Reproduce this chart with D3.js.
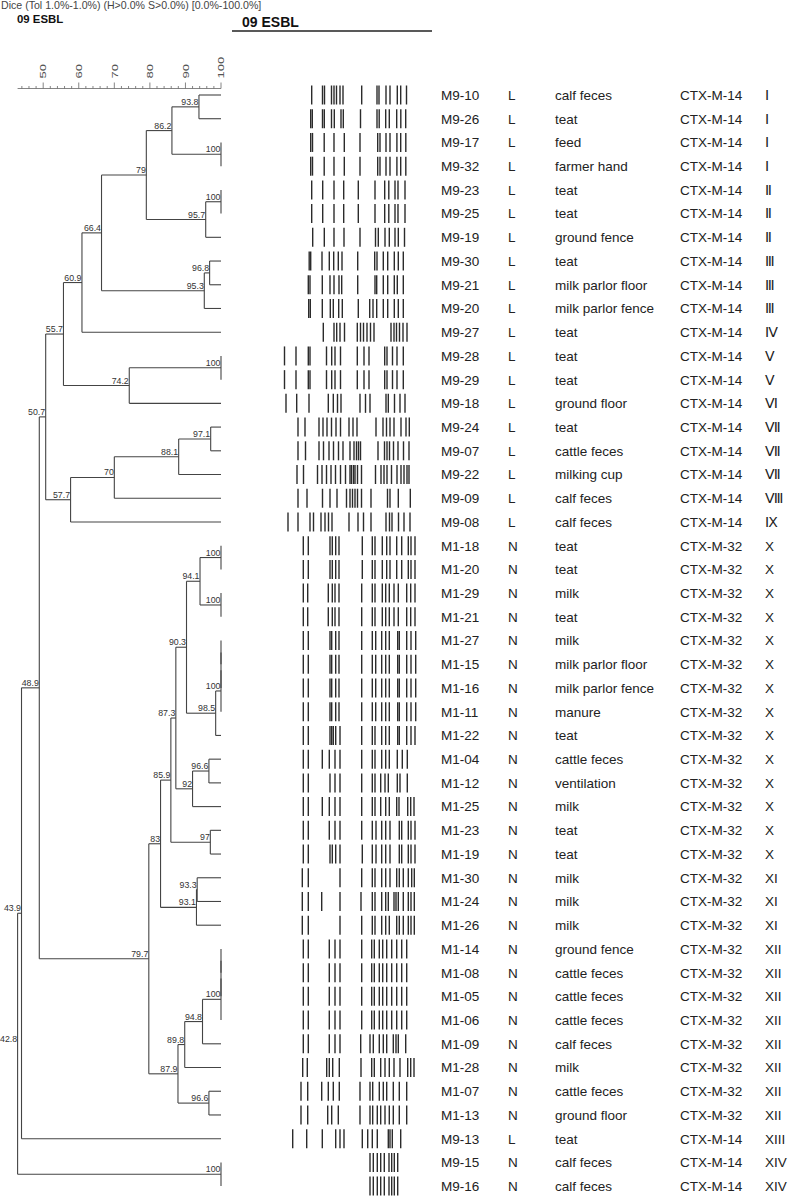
<!DOCTYPE html>
<html><head><meta charset="utf-8">
<script src="https://cdn.jsdelivr.net/npm/d3@7/dist/d3.min.js"></script>
<style>
body{margin:0;background:#fff;}
svg{display:block;font-family:"Liberation Sans",Arial,sans-serif;}
</style></head>
<body>
<svg id="chart" width="800" height="1199"></svg>
<script>
// ---------- DATA ----------
const ids = ["M9-10","M9-26","M9-17","M9-32","M9-23","M9-25","M9-19","M9-30","M9-21","M9-20","M9-27","M9-28","M9-29","M9-18","M9-24","M9-07","M9-22","M9-09","M9-08","M1-18","M1-20","M1-29","M1-21","M1-27","M1-15","M1-16","M1-11","M1-22","M1-04","M1-12","M1-25","M1-23","M1-19","M1-30","M1-24","M1-26","M1-14","M1-08","M1-05","M1-06","M1-09","M1-28","M1-07","M1-13","M9-13","M9-15","M9-16"];
const groups = ["L","L","L","L","L","L","L","L","L","L","L","L","L","L","L","L","L","L","L","N","N","N","N","N","N","N","N","N","N","N","N","N","N","N","N","N","N","N","N","N","N","N","N","N","L","N","N"];
const sources = ["calf feces","teat","feed","farmer hand","teat","teat","ground fence","teat","milk parlor floor","milk parlor fence","teat","teat","teat","ground floor","teat","cattle feces","milking cup","calf feces","calf feces","teat","teat","milk","teat","milk","milk parlor floor","milk parlor fence","manure","teat","cattle feces","ventilation","milk","teat","teat","milk","milk","milk","ground fence","cattle feces","cattle feces","cattle feces","calf feces","milk","cattle feces","ground floor","teat","calf feces","calf feces"];
const genes = ["CTX-M-14","CTX-M-14","CTX-M-14","CTX-M-14","CTX-M-14","CTX-M-14","CTX-M-14","CTX-M-14","CTX-M-14","CTX-M-14","CTX-M-14","CTX-M-14","CTX-M-14","CTX-M-14","CTX-M-14","CTX-M-14","CTX-M-14","CTX-M-14","CTX-M-14","CTX-M-32","CTX-M-32","CTX-M-32","CTX-M-32","CTX-M-32","CTX-M-32","CTX-M-32","CTX-M-32","CTX-M-32","CTX-M-32","CTX-M-32","CTX-M-32","CTX-M-32","CTX-M-32","CTX-M-32","CTX-M-32","CTX-M-32","CTX-M-32","CTX-M-32","CTX-M-32","CTX-M-32","CTX-M-32","CTX-M-32","CTX-M-32","CTX-M-32","CTX-M-14","CTX-M-14","CTX-M-14"];
const types = ["Ⅰ","Ⅰ","Ⅰ","Ⅰ","Ⅱ","Ⅱ","Ⅱ","Ⅲ","Ⅲ","Ⅲ","Ⅳ","Ⅴ","Ⅴ","Ⅵ","Ⅶ","Ⅶ","Ⅶ","Ⅷ","Ⅸ","X","X","X","X","X","X","X","X","X","X","X","X","X","X","XI","XI","XI","XII","XII","XII","XII","XII","XII","XII","XII","XIII","XIV","XIV"];

// band positions per lane (gel migration units, 0-140)
const bands = [
 [31.7,42.5,44.5,51.5,54,56.5,60,63,81.7,97,99,106,110,117.3,120.7,126.5],
 [30.7,32.3,42.5,44.3,51.5,54.3,61,63.3,80.5,97,99.2,105.7,109.3,116.7,120.8,125.7],
 [30.7,32.5,44.2,54,64.3,80,97.7,100,106,110,116.9,120.7,125.8],
 [30.7,32.5,44.2,54,64.3,80,97.7,100,106,110,116.9,120.7,125.8],
 [31.7,42.7,54,63.7,78.3,95,104.7,108.8,115,118,125],
 [31.7,42.7,54,63.7,78.3,95,104.7,108.8,115,118,125],
 [32.7,44.3,54,64,80,95.5,98.3,105,109.3,115,118.3,124.5],
 [29.2,30.7,42,49.3,53.7,58.3,62,77.7,94.7,97,103.3,107.7,114.3,118.3,123.3],
 [28.3,30,42.3,50,54,59,61.7,77.7,95,96.7,103.3,107.7,114.3,117.3,123.3],
 [28.7,30.3,42.3,50.3,53.3,58.7,62.3,78.3,89.7,93,96.7,103.3,107.7,114.3,118.3,123.3],
 [43.3,54,56.7,60,64.5,77.3,80.5,83.5,87,90.5,94,111,114,116.5,119.5,123,127],
 [4.5,16,28.3,30,46.5,51.7,55,60.5,77.3,84,89,104.7,107,112.5,117,123.3],
 [4.5,16,28.3,30,46.5,51.7,55,60.5,77.3,84,89,104.7,107,112.5,117,123.3],
 [6,16.7,29,48.3,53.3,57.5,61,80,85.5,90,106,108.3,114.5,120,125],
 [18,25,39,43,47,51.5,56,60.5,69,73,77,96,103,106.5,110,114,121,126,129.3],
 [18,25.5,39,43.5,49,53.5,58.5,63,70,74,76.5,78.5,80.5,98,104.5,107,109.5,113.5,118,123.5,129],
 [17,23.5,37.5,42,46.5,51,55.5,60.5,65.5,70,71.5,73.5,75,77.5,81.5,95.5,101,104,107,111.5,117,121,124,127,129],
 [18,27,42.5,50,57,66.5,70,72.5,75,77.5,81.5,91,107.5,110,118.3,130.3],
 [8,18,30,33.5,41,45,48.5,52,69,78,83.5,91,106,109.5,112,118.5,124,130],
 [23.3,28.3,50,52.3,55.7,59,82.3,92.3,95,102.3,106.7,110,116.7,121.7,128.3,131,135],
 [23.3,28.3,50,52.3,55.7,59,82.3,92.3,95,102.3,106.7,110,116.7,121.7,128.3,131,135],
 [23.3,27.7,48.3,52.3,55,59,81.7,92.3,95,102.3,105.7,109.3,114,118.3,126.7,130.7,135],
 [23.3,27.7,48.3,52.3,55,59,81.7,92.3,95,102.3,105.7,109.3,114,118.3,126.7,130.7,135],
 [23.3,28.3,50,51.7,55.7,59,81.7,92.3,95.7,101.7,105.7,109.3,117.7,119.3,126.7,131,135.7],
 [23.3,28.3,50,51.7,55.7,59,81.7,92.3,95.7,101.7,105.7,109.3,117.7,119.3,126.7,131,135.7],
 [23.3,28.3,50,51.7,55.7,59,81.7,92.3,95.7,101.7,105.7,109.3,117.7,119.3,126.7,131,135.7],
 [23.3,28.3,50,51.7,55.7,59,81.7,92.3,95.7,101.7,105.7,109.3,117.7,119.3,126.7,131,135.7],
 [23.3,28.3,50,51.7,53.3,55.7,60,81.7,92.3,95,101.7,105.7,109.3,117.7,119.3,126.7,131,135],
 [23.3,28.3,42.3,49.3,55,60,81.7,92.3,95,101.7,105.7,109.3,117.3,122.3,127.3],
 [23.3,28.3,50,55,60,81.7,92.3,95,100.7,105,108.3,117.3,120,127.3],
 [23.3,28.3,42.3,49.3,55,60,81.7,92.3,95,100.7,105.7,109.3,116.7,119,127.7,130.7,134],
 [23.3,28.3,49.3,55,60,81.7,92.3,96,101.7,105.7,110,119.3,121.7,128.3,131,135],
 [23.3,28.3,50,52.3,55.7,60,82.3,92.3,96,101.7,105.7,110,119.3,121.7,128.3,131,135],
 [22.3,28.3,60,81.7,92.3,95,101.7,105.7,110,116.7,119.3,123.3,128.3,131.7,134.3],
 [22.3,28.3,41.7,60,81,92.3,95,101.7,105.7,108.3,114,116,118.3,123.3,128.3,131,134.3],
 [22.3,28.3,60,81.7,92.3,95,101.7,105.7,109.3,116.7,119.3,123.3,128.3,131,134.3],
 [23.3,28.3,49.3,55,60,81.7,91.7,94.3,99.3,102.7,106.7,111.7,116.7,121.7,126.7],
 [23.3,28.3,49.3,55,60,81.7,91.7,94.3,99.3,102.7,106.7,111.7,116.7,121.7,126.7],
 [23.3,28.3,49.3,55,60,81.7,91.7,94.3,99.3,102.7,106.7,111.7,116.7,121.7,126.7],
 [23.3,28.3,49.3,55,60,81.7,91.7,94.3,99.3,102.7,106.7,111.7,116.7,121.7,126.7],
 [23.3,28.3,49.3,55,60,80.7,90,93.3,99.3,103.3,106.7,113.3,116,118.3,125.7],
 [22.7,27.3,46.7,49.3,52.7,59.3,81,91.7,94.3,100.7,105,109.3,114,120,127.7,130.7,134],
 [21,27.7,41.7,48.3,53.3,59.3,80,90,92.7,99.3,103.3,106.7,113.3,119.3,126.7],
 [21,27.7,47.7,51.7,58.3,80,90,92.7,97.3,100.7,105,109.3,113.3,119.3,126.7],
 [12.7,26.7,42.3,55.7,60,64,82.3,87.7,92.3,97.3,108.3,110,112.3,120.7],
 [90,93.3,97.3,100.7,104.3,109,111.7,114.3,117.7],
 [90,93.3,97.3,100.7,104.3,109,111.7,114.3,117.7]
];

// dendrogram merges: children are leaf indices (0-46) or internal node ids (100 + merge index)
const mergeChildren = [
 [0,1],[2,3],[100,101],[4,5],[103,6],[102,104],[7,8],[106,9],[105,107],[108,10],
 [11,12],[110,13],[109,111],[14,15],[113,16],[114,17],[115,18],[112,116],
 [19,20],[21,22],[118,119],[23,24],[121,25],[122,26],[123,27],[120,124],
 [28,29],[126,30],[125,127],[31,32],[128,129],[33,34],[131,35],[130,132],
 [36,37],[134,38],[135,39],[136,40],[137,41],[42,43],[138,139],[133,140],
 [117,141],[142,44],[45,46],[143,144]
];
const mergeSims = [93.8,100,86.2,100,95.7,79,96.8,95.3,66.4,60.9,
 100,74.2,55.7,97.1,88.1,70,57.7,50.7,
 100,100,94.1,100,100,100,98.5,90.3,
 96.6,92,87.3,97,85.9,93.3,93.1,83,
 100,100,100,94.8,89.8,96.6,87.9,79.7,
 48.9,43.9,100,42.8];

const axisTicks = [50,60,70,80,90,100];
const headerText = "Dice (Tol 1.0%-1.0%) (H>0.0% S>0.0%) [0.0%-100.0%]";
const title = "09 ESBL";

// ---------- DRAW ----------
const svg = d3.select("#chart");

const x = d3.scaleLinear().domain([50,100]).range([43.2,221]);
const y = d3.scaleLinear().domain([0,ids.length-1]).range([95,95+23.72*(ids.length-1)]);
const gel = d3.scaleLinear().domain([0,140]).range([280,420]);

// header
svg.append("text").attr("x",1).attr("y",9).attr("font-size",10.6).attr("fill","#444").text(headerText);
svg.append("text").attr("x",17).attr("y",23).attr("font-size",11.4).attr("font-weight","bold").attr("fill","#111").text(title);
svg.append("text").attr("x",242).attr("y",27).attr("font-size",14).attr("font-weight","bold").attr("fill","#111").text(title);
svg.append("line").attr("x1",232).attr("x2",432).attr("y1",31).attr("y2",31).attr("stroke","#222").attr("stroke-width",1.3);

// axis
const minSim = d3.min(mergeSims);
const axY = 88.5;
const ax = svg.append("g");
ax.append("line").attr("x1",x(minSim)).attr("x2",x(100)).attr("y1",axY).attr("y2",axY).attr("stroke","#666").attr("stroke-width",0.8);
const minor = d3.range(44,100.1,2);
ax.selectAll("line.mn").data(minor).join("line").attr("class","mn")
  .attr("x1",d=>x(d)).attr("x2",d=>x(d)).attr("y1",axY).attr("y2",d=>axY-(d%10===0?6:2.5))
  .attr("stroke","#666").attr("stroke-width",0.8);
ax.selectAll("text").data(axisTicks).join("text")
  .attr("transform",d=>`translate(${x(d)+3.2},${axY-10}) rotate(-90) scale(1.45,1)`)
  .attr("font-size",9).attr("fill","#555").text(d=>d);

// dendrogram layout
const nodeY = {}, nodeX = {};
ids.forEach((d,i)=>{ nodeY[i]=y(i); nodeX[i]=x(100); });
const parentSim = {};
mergeChildren.forEach((c,k)=>{ c.forEach(ch=>parentSim[ch]=mergeSims[k]); });
const dg = svg.append("g").attr("stroke","#444").attr("stroke-width",1.1).attr("fill","none");
const lbl = svg.append("g").attr("font-size",8.8).attr("fill","#333").attr("text-anchor","end");
mergeChildren.forEach((c,k)=>{
  const id = 100+k, s = mergeSims[k], nx = x(s);
  const ya = nodeY[c[0]], yb = nodeY[c[1]];
  dg.append("line").attr("x1",nx).attr("x2",nx).attr("y1",ya).attr("y2",yb);
  c.forEach(ch=>{
    dg.append("line").attr("x1",nx).attr("x2",nodeX[ch]).attr("y1",nodeY[ch]).attr("y2",nodeY[ch]);
  });
  nodeY[id] = (ya+yb)/2; nodeX[id] = nx;
  const hide = s===100 && parentSim[id]===100;
  if(!hide) lbl.append("text").attr("x",nx-0.5).attr("y",nodeY[id]-2).text(s);
});

// gel lanes
const lanes = svg.append("g");
bands.forEach((b,i)=>{
  lanes.append("g").selectAll("line").data(b).join("line")
    .attr("x1",d=>gel(d)).attr("x2",d=>gel(d))
    .attr("y1",y(i)-9.5).attr("y2",y(i)+9.5)
    .attr("stroke","#2b2b2b").attr("stroke-width",1.4);
});

// info columns
const cols = [[ids,441],[groups,508],[sources,555],[genes,680],[types,765]];
const info = svg.append("g").attr("font-size",13.5).attr("fill","#222");
cols.forEach(([arr,cx])=>{
  info.append("g").selectAll("text").data(arr).join("text")
    .attr("x",cx).attr("y",(d,i)=>y(i)).attr("dy","0.36em").text(d=>d);
});
</script>
</body></html>
